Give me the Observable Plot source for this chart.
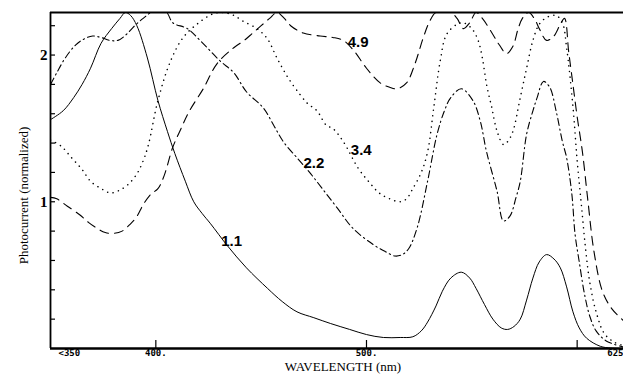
<!DOCTYPE html>
<html>
<head>
<meta charset="utf-8">
<script src="https://cdn.jsdelivr.net/npm/d3@7"></script>
<script src="https://cdn.jsdelivr.net/npm/@observablehq/plot@0.6"></script>
<style>
  html, body { margin: 0; padding: 0; background: #fff; }
</style>
</head>
<body>
<div id="chart"></div>
<script>
// ---- data ----
const yMax = 2.29;

const wl11 = [350,356,361,365,369,374,379,383,385.5,388,391,396,401,405.5,409,414,418,422,426,434,443,453,460,467,475,483,492,500,508,516,522,526,529,533,536,540,545,549,552,556,560,564,567,570,573,576,579,582,585.5,589,592,595,598,601,604.5,611,616,622];
const pc11 = [1.56,1.62,1.71,1.80,1.91,2.08,2.18,2.25,2.29,2.27,2.20,1.98,1.69,1.48,1.33,1.14,1.00,0.92,0.85,0.70,0.55,0.41,0.32,0.25,0.21,0.17,0.13,0.095,0.075,0.075,0.08,0.12,0.18,0.29,0.39,0.48,0.52,0.48,0.41,0.30,0.20,0.14,0.13,0.15,0.20,0.33,0.48,0.59,0.64,0.61,0.55,0.42,0.25,0.14,0.07,0.015,0.003,0];

const wl22 = [350,353,357,362,366,370,374,378,382,386,390,394,398,405,408,415,421,430.5,437,443,451,456,460.5,467,473,479,486,493.5,503,509,513.5,517,520,524,529,533.5,537,540,545,550.5,554,557,562,565,568,571,573,576,579,581,584,587,590,593,595,597.5,599,601,603.5,606,609,614,622];
const pc22 = [1.80,1.88,1.98,2.07,2.11,2.13,2.12,2.10,2.10,2.14,2.20,2.25,2.29,2.29,2.22,2.18,2.10,1.96,1.88,1.75,1.64,1.52,1.41,1.30,1.20,1.09,0.96,0.82,0.71,0.66,0.63,0.64,0.68,0.82,1.14,1.46,1.62,1.71,1.77,1.69,1.55,1.34,1.07,0.87,0.90,1.03,1.14,1.46,1.62,1.71,1.82,1.78,1.62,1.41,1.30,1.05,0.78,0.59,0.37,0.22,0.12,0.05,0.01];

const wl34 = [350,355,360,365,369,374,378.5,383,387,391,394,396.5,401,407,413,419.5,427,432,437,441.5,448,453,457.5,463,468.5,472,476.5,481,484,489,496,501.5,506,511,516,519,522,526,529,532,535,538,543,546,550,553,555,557,559.5,562,565,567,569.5,573,576,579,582,586,590,593,595,598,600,602,604,606,609,613,618,622];
const pc34 = [1.42,1.38,1.30,1.22,1.14,1.09,1.06,1.08,1.12,1.19,1.28,1.39,1.69,1.96,2.12,2.21,2.28,2.29,2.27,2.23,2.18,2.11,1.98,1.84,1.73,1.67,1.62,1.52,1.50,1.41,1.23,1.13,1.06,1.02,1.00,1.02,1.09,1.20,1.34,1.65,1.96,2.14,2.21,2.22,2.18,2.10,1.98,1.80,1.64,1.48,1.39,1.41,1.48,1.71,1.91,2.10,2.21,2.26,2.27,2.22,2.05,1.65,1.28,0.98,0.68,0.45,0.25,0.10,0.04,0.02];

const wl49 = [350,353,358,364,368,372,376,380,384,388,391,394,397.5,401,404,408,412,416,422.5,429,437,442,446,450,454,457.5,461,464,470,478,484,489,494,500,506.5,511,514.5,519,523,527,530,533,540,543,546,549,552,555,560,563,566.5,569.5,572,574,577,580,582,585.5,589,592,594,596,598,600,602.5,605,608,612,616.5,622];
const pc49 = [1.03,1.02,0.97,0.91,0.86,0.82,0.79,0.785,0.80,0.85,0.90,0.98,1.05,1.09,1.18,1.37,1.50,1.62,1.77,1.94,2.05,2.10,2.15,2.20,2.25,2.29,2.25,2.20,2.15,2.13,2.12,2.10,2.03,1.91,1.81,1.78,1.77,1.81,1.94,2.12,2.23,2.29,2.29,2.25,2.18,2.22,2.29,2.25,2.14,2.07,2.01,2.06,2.18,2.25,2.29,2.24,2.18,2.10,2.13,2.21,2.25,2.02,1.80,1.58,1.34,1.02,0.66,0.39,0.27,0.19];

const curveNames = ["1.1", "2.2", "3.4", "4.9"];
const curveLabelWl = [436, 475, 497.5, 496];
const curveLabelPc = [0.73, 1.26, 1.35, 2.09];

const xTicks = [400, 500, 600];
const xTickLabels = ["400.", "500.", ""];
const xEdgeLabels = ["<350", "625"];
const yTicks = [0.2, 0.4, 0.6, 0.8, 1.0, 1.2, 1.4, 1.6, 1.8, 2.0, 2.2];
const yLabelTicks = [1, 2];

const xTitle = "WAVELENGTH (nm)";
const yTitle = "Photocurrent (normalized)";

// ---- build tables ----
const rows = (wl, pc) => wl.map((w, i) => ({wl: w, pc: pc[i]}));
const d11 = rows(wl11, pc11), d22 = rows(wl22, pc22), d34 = rows(wl34, pc34), d49 = rows(wl49, pc49);
const labels = curveNames.map((t, i) => ({t, wl: curveLabelWl[i], pc: curveLabelPc[i]}));
const xFmt = new Map(xTicks.map((v, i) => [v, xTickLabels[i]]));

const serif = "'Liberation Serif', 'DejaVu Serif', serif";
const mono = "'DejaVu Sans Mono', 'Liberation Mono', monospace";

const lineOpts = {x: "wl", y: "pc", curve: "catmull-rom", clip: true, stroke: "black", strokeWidth: 1.1};

const chart = Plot.plot({
  width: 623,
  height: 380,
  marginLeft: 50,
  marginRight: 0,
  marginTop: 12,
  marginBottom: 32,
  x: {domain: [350, 622], axis: null},
  y: {domain: [0, yMax], axis: null},
  style: {background: "white", color: "black"},
  marks: [
    Plot.line(d11, {...lineOpts, strokeWidth: 1}),
    Plot.line(d22, {...lineOpts, strokeDasharray: "7,3.5,1.3,3.5"}),
    Plot.line(d34, {...lineOpts, strokeWidth: 1.5, strokeDasharray: "0.1,5.5", strokeLinecap: "round"}),
    Plot.line(d49, {...lineOpts, strokeDasharray: "9,6"}),
    Plot.text(labels, {x: "wl", y: "pc", text: "t", textAnchor: "middle", fontSize: 15, fontWeight: 600, fontFamily: "'Liberation Sans Narrow', 'Liberation Sans', Arial, sans-serif", fill: "black"}),
    // frame
    Plot.ruleY([0], {strokeWidth: 2.4}),
    Plot.ruleY([yMax], {strokeWidth: 2}),
    Plot.ruleX([350], {strokeWidth: 1.8}),
    // y ticks (inward) and labels
    Plot.axisY(yTicks, {anchor: "left", label: null, tickSize: -5, tickFormat: () => "", strokeWidth: 1.2}),
    Plot.axisY(yLabelTicks, {anchor: "left", label: null, tickSize: 0, tickPadding: 3, tickFormat: d => String(d), fontSize: 15, fontWeight: "bold", fontFamily: serif}),
    // x ticks (inward) and labels
    Plot.axisX(xTicks, {anchor: "bottom", label: null, tickSize: -8, tickPadding: 9, tickFormat: d => xFmt.get(d), fontSize: 9, fontWeight: "bold", fontFamily: mono, strokeWidth: 1.2}),
    Plot.axisX([350], {anchor: "bottom", label: null, tickSize: 0, tickPadding: 1, tickFormat: () => xEdgeLabels[0], textAnchor: "start", dx: 8, fontSize: 9, fontWeight: "bold", fontFamily: mono}),
    Plot.axisX([622], {anchor: "bottom", label: null, tickSize: 0, tickPadding: 1, tickFormat: () => xEdgeLabels[1], textAnchor: "end", dx: 0, fontSize: 9, fontWeight: "bold", fontFamily: mono}),
    // titles
    Plot.text([xTitle], {text: d => d, frameAnchor: "bottom", textAnchor: "middle", dy: 22, dx: 6, fontSize: 13, fontFamily: serif, fill: "black"}),
    Plot.text([yTitle], {text: d => d, frameAnchor: "left", textAnchor: "middle", rotate: -90, dx: -27, dy: 15, fontSize: 13, fontFamily: serif, fill: "black"})
  ]
});
document.getElementById("chart").appendChild(chart);
</script>
</body>
</html>
